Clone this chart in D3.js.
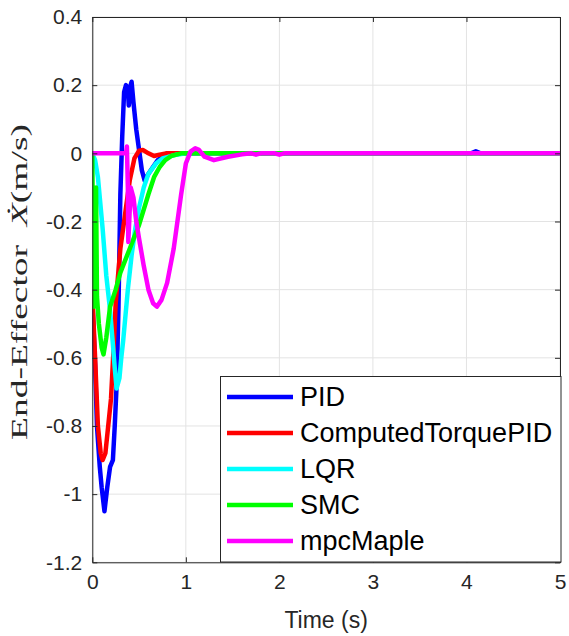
<!DOCTYPE html>
<html>
<head>
<meta charset="utf-8">
<script src="https://cdn.jsdelivr.net/npm/d3@7"></script>
<style>
body { margin: 0; background: #fff; }
svg { display: block; }
</style>
</head>
<body>
<svg width="569" height="636"></svg>
<script>
// series names and colours
var names = ['PID', 'ComputedTorquePID', 'LQR', 'SMC', 'mpcMaple'];
var colors = ['#0000ff', '#ff0000', '#00ffff', '#00ff00', '#ff00ff'];

// [time, velocity]
var pid = [[0,-0.43],[0.03,-0.62],[0.05,-0.8],[0.08,-0.92],[0.1,-0.98],[0.13,-1.05],[0.16,-0.98],[0.19,-0.92],
  [0.22,-0.9],[0.24,-0.8],[0.26,-0.68],[0.28,-0.45],[0.3,-0.12],[0.32,0.05],[0.34,0.18],[0.36,0.2],[0.38,0.19],
  [0.39,0.14],[0.41,0.2],[0.42,0.21],[0.44,0.15],[0.47,0.07],[0.5,0.01],[0.53,-0.05],[0.56,-0.08],[0.6,-0.06],
  [0.7,-0.02],[0.8,0],[4.05,0],[4.1,0.006],[4.15,0],[5,0]];
var ctpid = [[0,-0.41],[0.03,-0.6],[0.06,-0.8],[0.09,-0.88],[0.11,-0.9],[0.14,-0.88],[0.17,-0.8],[0.2,-0.72],
  [0.23,-0.56],[0.25,-0.44],[0.3,-0.28],[0.35,-0.18],[0.4,-0.08],[0.45,-0.015],[0.5,0.008],[0.54,0.01],
  [0.6,0],[0.66,-0.008],[0.72,-0.004],[0.8,0],[5,0]];
var lqr = [[0,0],[0.03,-0.02],[0.06,-0.07],[0.11,-0.22],[0.15,-0.36],[0.19,-0.46],[0.22,-0.56],[0.24,-0.63],
  [0.26,-0.69],[0.29,-0.66],[0.31,-0.6],[0.33,-0.55],[0.38,-0.4],[0.42,-0.3],[0.46,-0.22],[0.5,-0.16],
  [0.55,-0.1],[0.6,-0.06],[0.68,-0.03],[0.75,-0.015],[0.9,-0.004],[1.0,0],[5,0]];
var smc = [[0,0],[0.008,-0.3],[0.015,-0.45],[0.03,-0.3],[0.04,-0.1],[0.05,-0.42],[0.07,-0.5],[0.1,-0.57],
  [0.12,-0.59],[0.15,-0.54],[0.19,-0.45],[0.25,-0.4],[0.3,-0.35],[0.4,-0.28],[0.5,-0.21],[0.6,-0.12],
  [0.66,-0.07],[0.72,-0.04],[0.78,-0.02],[0.85,-0.007],[0.95,0],[5,0]];
var mpc = [[0,0],[0.36,0],[0.37,0.02],[0.38,-0.1],[0.385,-0.26],[0.395,-0.2],[0.41,-0.1],[0.44,-0.13],
  [0.47,-0.2],[0.5,-0.25],[0.55,-0.33],[0.6,-0.4],[0.65,-0.44],[0.69,-0.45],[0.74,-0.43],[0.8,-0.38],
  [0.87,-0.28],[0.95,-0.12],[1.0,-0.03],[1.05,0.005],[1.1,0.015],[1.14,0.01],[1.2,-0.01],[1.3,-0.02],
  [1.45,-0.01],[1.6,-0.003],[1.7,0],[1.75,-0.004],[1.8,0],[1.95,0],[2.0,-0.004],[2.05,0],[5,0]];
var series = [pid, ctpid, lqr, smc, mpc];

var xTicks = [0, 1, 2, 3, 4, 5];
var yTicks = [-1.2, -1, -0.8, -0.6, -0.4, -0.2, 0, 0.2, 0.4];

var svg = d3.select('svg');
var pLeft = 92.3, pRight = 560, pTop = 17, pBottom = 562.3;
var axisColor = '#262626';

var x = d3.scaleLinear().domain([0, 5]).range([pLeft, pRight]);
var y = d3.scaleLinear().domain([-1.2, 0.4]).range([pBottom, pTop]);

// grid
svg.append('g').selectAll('line').data(xTicks).enter().append('line')
  .attr('x1', d => x(d)).attr('x2', d => x(d)).attr('y1', pTop).attr('y2', pBottom)
  .attr('stroke', '#e3e3e3').attr('stroke-width', 1);
svg.append('g').selectAll('line').data(yTicks).enter().append('line')
  .attr('x1', pLeft).attr('x2', pRight).attr('y1', d => y(d)).attr('y2', d => y(d))
  .attr('stroke', '#e3e3e3').attr('stroke-width', 1);

// clip for curves
svg.append('clipPath').attr('id', 'clip').append('rect')
  .attr('x', pLeft).attr('y', pTop).attr('width', pRight - pLeft).attr('height', pBottom - pTop);

var line = d3.line().x(d => x(d[0])).y(d => y(d[1]));
svg.append('g').attr('clip-path', 'url(#clip)')
  .selectAll('path').data(series).enter().append('path')
  .attr('d', line)
  .attr('fill', 'none')
  .attr('stroke', (d, i) => colors[i])
  .attr('stroke-width', 4.5)
  .attr('stroke-linejoin', 'round')
  .attr('stroke-linecap', 'round');

// axes (ticks inside, MATLAB style)
var fmt = d => String(+d.toFixed(1));
var tickFont = 'Liberation Sans, Arial, sans-serif';

var xAx = svg.append('g').attr('transform', 'translate(0,' + pBottom + ')')
  .call(d3.axisBottom(x).tickValues(xTicks).tickFormat(fmt).tickSizeInner(-5).tickSizeOuter(0).tickPadding(12));
var xTop = svg.append('g').attr('transform', 'translate(0,' + pTop + ')')
  .call(d3.axisTop(x).tickValues(xTicks).tickFormat('').tickSizeInner(-5).tickSizeOuter(0));
var yAx = svg.append('g').attr('transform', 'translate(' + pLeft + ',0)')
  .call(d3.axisLeft(y).tickValues(yTicks).tickFormat(fmt).tickSizeInner(-5).tickSizeOuter(0).tickPadding(10));
var yRight = svg.append('g').attr('transform', 'translate(' + pRight + ',0)')
  .call(d3.axisRight(y).tickValues(yTicks).tickFormat('').tickSizeInner(-5).tickSizeOuter(0));

[xAx, xTop, yAx, yRight].forEach(function(g) {
  g.selectAll('.domain').attr('stroke', axisColor).attr('stroke-width', 1);
  g.selectAll('.tick line').attr('stroke', axisColor);
  g.selectAll('text').attr('fill', axisColor).attr('font-family', tickFont).attr('font-size', 21);
});

// axis labels
svg.append('text')
  .attr('x', (pLeft + pRight) / 2).attr('y', 628)
  .attr('text-anchor', 'middle')
  .attr('font-family', tickFont).attr('font-size', 23).attr('fill', axisColor)
  .text('Time (s)');

var yl = svg.append('text')
  .attr('transform', 'translate(27,282) rotate(-90)')
  .attr('text-anchor', 'middle')
  .attr('font-family', 'Liberation Serif, DejaVu Serif, serif').attr('font-size', 23).attr('fill', axisColor)
  .attr('textLength', 316).attr('lengthAdjust', 'spacingAndGlyphs');
yl.append('tspan').text('End-Effector\u2002');
yl.append('tspan').attr('font-style', 'italic').text('\u1E8A');
yl.append('tspan').text('(m/s)');

// legend
var lg = svg.append('g');
lg.append('rect').attr('x', 220.5).attr('y', 376.5).attr('width', 340.5).attr('height', 185.5)
  .attr('fill', '#fff').attr('stroke', axisColor).attr('stroke-width', 1);
var items = lg.selectAll('g.item').data(names).enter().append('g')
  .attr('transform', (d, i) => 'translate(0,' + (397 + i * 36) + ')');
items.append('line').attr('x1', 227).attr('x2', 293).attr('y1', 0).attr('y2', 0)
  .attr('stroke', (d, i) => colors[i]).attr('stroke-width', 4.5);
items.append('text').attr('x', 300).attr('y', 0).attr('dy', '0.35em')
  .attr('font-family', tickFont).attr('font-size', 27).attr('fill', '#000')
  .text(d => d);
</script>
</body>
</html>
